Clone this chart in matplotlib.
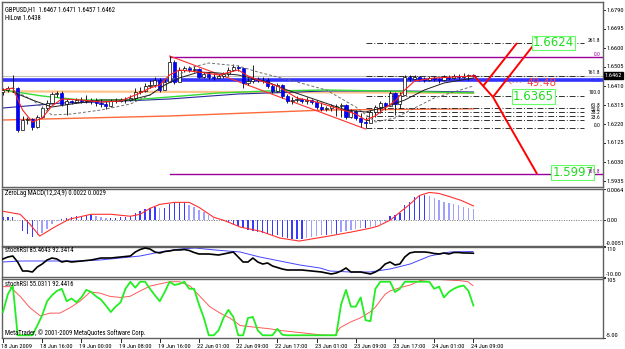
import matplotlib
matplotlib.use("Agg")
import matplotlib.pyplot as plt
import numpy as np

W, H = 625, 349
SMALL = ["Roboto Condensed", "Liberation Sans Narrow", "Liberation Sans", "DejaVu Sans"]
plt.rcParams["font.family"] = SMALL
FS = 4.6
FS_TITLE = 4.8

# ---- price data (GBPUSD H1, 18 Jun 2009 - 24 Jun 2009) ----
first_open = 1.6380
closes = [1.6390, 1.6400, 1.6400, 1.6190, 1.6240, 1.6245, 1.6205, 1.6255, 1.6300, 1.6325,
          1.6370, 1.6375, 1.6320, 1.6335, 1.6330, 1.6340, 1.6335, 1.6340, 1.6335, 1.6325,
          1.6320, 1.6310, 1.6335, 1.6337, 1.6340, 1.6342, 1.6350, 1.6380, 1.6385, 1.6410,
          1.6415, 1.6440, 1.6390, 1.6430, 1.6530, 1.6430, 1.6490, 1.6500, 1.6490, 1.6495,
          1.6455, 1.6470, 1.6455, 1.6450, 1.6460, 1.6470, 1.6490, 1.6505, 1.6500, 1.6425,
          1.6435, 1.6445, 1.6440, 1.6438, 1.6410, 1.6385, 1.6415, 1.6360, 1.6335, 1.6340,
          1.6345, 1.6335, 1.6340, 1.6330, 1.6305, 1.6295, 1.6300, 1.6310, 1.6312, 1.6315,
          1.6255, 1.6285, 1.6250, 1.6230, 1.6225, 1.6280, 1.6305, 1.6325, 1.6310, 1.6375,
          1.6320, 1.6365, 1.6455, 1.6445, 1.6455, 1.6445, 1.6440, 1.6450, 1.6445, 1.6440,
          1.6455, 1.6450, 1.6460, 1.6455, 1.6460, 1.6467, 1.6462]
highs = [1.6400, 1.6410, 1.6465, 1.6405, 1.6260, 1.6255, 1.6250, 1.6265, 1.6310, 1.6340,
         1.6380, 1.6385, 1.6385, 1.6345, 1.6340, 1.6350, 1.6355, 1.6365, 1.6350, 1.6350,
         1.6345, 1.6335, 1.6345, 1.6350, 1.6350, 1.6355, 1.6365, 1.6400, 1.6405, 1.6425,
         1.6440, 1.6455, 1.6450, 1.6450, 1.6560, 1.6540, 1.6505, 1.6510, 1.6510, 1.6510,
         1.6500, 1.6480, 1.6480, 1.6475, 1.6470, 1.6480, 1.6505, 1.6520, 1.6515, 1.6500,
         1.6450, 1.6515, 1.6455, 1.6455, 1.6450, 1.6420, 1.6425, 1.6420, 1.6370, 1.6355,
         1.6360, 1.6350, 1.6355, 1.6345, 1.6340, 1.6330, 1.6310, 1.6320, 1.6320, 1.6325,
         1.6320, 1.6295, 1.6290, 1.6275, 1.6255, 1.6290, 1.6315, 1.6335, 1.6330, 1.6385,
         1.6380, 1.6380, 1.6465, 1.6465, 1.6465, 1.6460, 1.6455, 1.6460, 1.6460, 1.6450,
         1.6465, 1.6465, 1.6470, 1.6470, 1.6475, 1.6470, 1.6471]
lows = [1.6365, 1.6380, 1.6380, 1.6180, 1.6190, 1.6220, 1.6190, 1.6200, 1.6250, 1.6290,
        1.6320, 1.6355, 1.6310, 1.6265, 1.6320, 1.6325, 1.6325, 1.6325, 1.6320, 1.6310,
        1.6305, 1.6295, 1.6305, 1.6325, 1.6330, 1.6325, 1.6335, 1.6340, 1.6370, 1.6380,
        1.6400, 1.6405, 1.6380, 1.6390, 1.6430, 1.6420, 1.6430, 1.6480, 1.6480, 1.6480,
        1.6450, 1.6450, 1.6445, 1.6440, 1.6450, 1.6450, 1.6460, 1.6485, 1.6485, 1.6400,
        1.6415, 1.6425, 1.6430, 1.6425, 1.6400, 1.6375, 1.6380, 1.6350, 1.6325, 1.6320,
        1.6330, 1.6325, 1.6320, 1.6320, 1.6295, 1.6285, 1.6285, 1.6285, 1.6260, 1.6255,
        1.6245, 1.6250, 1.6240, 1.6205, 1.6200, 1.6225, 1.6255, 1.6275, 1.6290, 1.6310,
        1.6265, 1.6300, 1.6365, 1.6435, 1.6440, 1.6435, 1.6430, 1.6435, 1.6435, 1.6425,
        1.6435, 1.6440, 1.6445, 1.6445, 1.6450, 1.6440, 1.6457]

# moving averages on the price chart (bar index, price)
red_ma_idx = [0, 2, 4, 6, 8, 10, 12, 16, 20, 24, 28, 30, 32, 34, 36, 40, 44, 48, 50, 52,
              56, 60, 64, 68, 72, 74, 76, 78, 80, 82, 84, 88, 92, 96]
red_ma = [1.6390, 1.6400, 1.6290, 1.6230, 1.6250, 1.6310, 1.6345, 1.6340, 1.6330, 1.6335,
          1.6375, 1.6400, 1.6415, 1.6465, 1.6490, 1.6480, 1.6465, 1.6490, 1.6460, 1.6440,
          1.6410, 1.6350, 1.6330, 1.6300, 1.6270, 1.6240, 1.6260, 1.6300, 1.6335, 1.6390,
          1.6435, 1.6450, 1.6455, 1.6460]
black_ma_idx = [2, 6, 10, 14, 20, 26, 30, 33, 36, 40, 44, 48, 54, 58, 64, 70, 74, 78, 82, 86, 90, 96]
black_ma = [1.6380, 1.6340, 1.6305, 1.6320, 1.6340, 1.6340, 1.6365, 1.6415, 1.6450, 1.6480,
            1.6475, 1.6465, 1.6430, 1.6390, 1.6340, 1.6290, 1.6280, 1.6305, 1.6340, 1.6390,
            1.6425, 1.6450]
gray_ma_idx = [2, 6, 10, 14, 20, 26, 30, 34, 38, 42, 48, 52, 60, 66, 72, 76, 80, 84, 88, 92, 96]
gray_ma = [1.6390, 1.6340, 1.6265, 1.6270, 1.6290, 1.6320, 1.6365, 1.6430, 1.6500, 1.6525,
           1.6510, 1.6480, 1.6430, 1.6390, 1.6305, 1.6230, 1.6250, 1.6300, 1.6350, 1.6380, 1.6410]
green_ma_idx = [0, 8, 16, 26, 34, 44, 54, 66, 78, 96]
green_ma = [1.6390, 1.6360, 1.6340, 1.6340, 1.6355, 1.6375, 1.6385, 1.6390, 1.6385, 1.6375]
navy_ma_idx = [0, 12, 20, 34, 48, 66, 82, 96]
navy_ma = [1.6300, 1.6325, 1.6330, 1.6345, 1.6370, 1.6385, 1.6385, 1.6380]
peach_ma_idx = [0, 48, 96]
peach_ma = [1.6383, 1.6380, 1.6375]
orange_ma_idx = [0, 34, 66, 96]
orange_ma = [1.6240, 1.6260, 1.6290, 1.6296]

hilow = 1.6438
bid = 1.6462

# fibonacci objects
fib1_start = 34
fib1_levels = [1.6556, 1.5970]
fib1_names = ["0.0", "161.8"]
fib2_start = 74
fib2_levels = [1.6200, 1.6238, 1.6262, 1.6281, 1.6300, 1.6362, 1.6462, 1.6624]
fib2_names = ["0.0", "23.6", "38.2", "50.0", "61.8", "100.0", "161.8", "261.8"]
zigzag_idx = [34, 74]
zigzag = [1.6560, 1.6195]

# projection lines
proj_a_idx = [96, 100, 109]
proj_a = [1.6465, 1.6355, 1.5970]
proj_b_idx = [98, 104.9]
proj_b = [1.6410, 1.6625]
proj_c_idx = [100, 108.6]
proj_c = [1.6355, 1.6625]
targets = ["1.6624", "1.6365", "1.5997"]
target_idx = [112.3, 108.2, 116.3]
target_price = [1.6625, 1.63565, 1.59755]

# ZeroLag MACD
macd_hist = [0.0006, 0.0006, 0.0006, -0.0002, -0.0022, -0.0028, -0.0034, -0.0030, -0.0026, -0.0018,
             -0.0008, -0.0002, 0.0002, 0.0004, 0.0006, 0.0008, 0.0008, 0.0010, 0.0010, 0.0008,
             0.0006, 0.0004, 0.0004, 0.0004, 0.0006, 0.0006, 0.0008, 0.0014, 0.0018, 0.0022,
             0.0024, 0.0026, 0.0024, 0.0024, 0.0032, 0.0036, 0.0036, 0.0036, 0.0030, 0.0026,
             0.0020, 0.0016, 0.0010, 0.0004, 0.0000, -0.0002, -0.0004, -0.0008, -0.0012, -0.0016,
             -0.0020, -0.0022, -0.0024, -0.0026, -0.0028, -0.0030, -0.0030, -0.0034, -0.0036, -0.0038,
             -0.0038, -0.0038, -0.0036, -0.0034, -0.0032, -0.0030, -0.0030, -0.0028, -0.0028, -0.0024,
             -0.0022, -0.0020, -0.0018, -0.0016, -0.0016, -0.0014, -0.0012, -0.0008, -0.0004, 0.0008,
             0.0010, 0.0014, 0.0030, 0.0036, 0.0046, 0.0048, 0.0050, 0.0048, 0.0044, 0.0040,
             0.0036, 0.0034, 0.0032, 0.0030, 0.0027, 0.0024, 0.0022]
macd_sig_idx = [0, 3.5, 5.5, 7.5, 10.5, 13.5, 18, 22, 26, 28, 30, 32, 35, 38, 40, 43, 45, 48.5,
                52.5, 56.5, 60.5, 66.5, 71, 75, 76.5, 79, 81, 83, 85, 87, 89, 91, 93.5, 96]
macd_sig = [0.0018, 0.0012, -0.0008, -0.0032, -0.0014, 0.0002, 0.0012, 0.0012, 0.0008, 0.0012,
            0.0024, 0.0032, 0.0036, 0.0036, 0.0026, 0.0006, 0.0000, -0.0014, -0.0022, -0.0036,
            -0.0042, -0.0032, -0.0024, -0.0016, -0.0012, 0.0000, 0.0016, 0.0032, 0.0050, 0.0056,
            0.0054, 0.0048, 0.0040, 0.0029]

# stochRSI (upper)
st1_main = [62, 70, 74, 50, 14, 14, 10, 30, 42, 58,
            66, 62, 50, 54, 50, 52, 54, 56, 58, 62,
            66, 66, 66, 68, 70, 72, 74, 90, 100, 106,
            102, 90, 86, 92, 94, 98, 98, 100, 96, 88,
            82, 82, 82, 80, 78, 82, 86, 90, 70, 50,
            50, 66, 50, 42, 46, 34, 28, 22, 18, 18,
            18, 18, 16, 14, 12, 10, 6, 2, 6, 14,
            26, 10, 10, 10, 6, 2, 10, 22, 42, 50,
            38, 42, 70, 86, 90, 90, 90, 88, 84, 82,
            86, 82, 88, 88, 86, 86, 85]
st1_sig_idx = [0, 3.5, 9.6, 15.7, 19.8, 23.9, 28, 32, 36.1, 39.2, 43.3, 48.4, 52.4, 56.5,
               60.6, 64.7, 66.7, 70.8, 74.9, 79, 83.1, 87.1, 91.2, 95.9]
st1_sig = [50, 54, 54, 54, 58, 66, 74, 90, 102, 106, 98, 90, 70, 54,
           38, 26, 14, 10, 10, 22, 42, 74, 90, 92]

# stochRSI (lower)
st2_main = [43, 76, 92, 0, 0, 0, 0, 18, 37, 63,
            74, 82, 86, 63, 68, 61, 70, 84, 80, 72,
            66, 55, 43, 53, 61, 86, 99, 88, 99, 99,
            86, 74, 63, 80, 99, 93, 95, 99, 86, 86,
            57, 32, 0, 0, 9, 32, 47, 34, 0, 0,
            32, 34, 9, 0, 0, 0, 12, 1, 0, 0,
            0, 0, 0, 0, 0, 0, 0, 0, 0, 57,
            84, 53, 53, 70, 28, 26, 86, 99, 99, 99,
            80, 86, 99, 99, 99, 99, 99, 99, 86, 90,
            70, 80, 86, 90, 92, 82, 55]
st2_sig_idx = [0, 1.4, 3.5, 5.5, 7.6, 9.6, 11.6, 13.7, 15.7, 17.8,
               19.8, 21.8, 23.9, 25.9, 28, 30, 32, 34.1, 36.1, 38.2,
               40.2, 42.2, 44.3, 46.3, 48.4, 50.4, 52.4, 54.5, 56.5, 58.6,
               60.6, 64.7, 67.8, 68.8, 70.8, 72.9, 74.9, 75.9, 76.9, 78,
               79, 81, 83.1, 85.1, 87.1, 89.2, 91.2, 93.3, 94.9, 95.9]
st2_sig = [90, 90, 72, 51, 36, 41, 41, 51, 63, 80,
           78, 72, 70, 72, 82, 91, 95, 99, 99, 91,
           72, 53, 41, 32, 18, 16, 14, 12, 9, 7,
           5, 1, 0, 14, 24, 32, 43, 51, 63, 76,
           82, 88, 93, 101, 104, 103, 102, 101, 99, 92]

time_labels = ["18 Jun 2009", "18 Jun 16:00", "19 Jun 00:00", "19 Jun 08:00", "19 Jun 16:00",
               "22 Jun 01:00", "22 Jun 09:00", "22 Jun 17:00", "23 Jun 01:00", "23 Jun 09:00",
               "23 Jun 17:00", "24 Jun 01:00", "24 Jun 09:00"]
time_ticks = [0, 8, 16, 24, 32, 40, 48, 56, 64, 72, 80, 88, 96]
price_ticks = [1.6790, 1.6695, 1.6600, 1.6505, 1.6410, 1.6315, 1.6220, 1.6125, 1.6030, 1.5935]


def rect(x0, y0, x1, y1):
    return [x0 / W, 1 - y1 / H, (x1 - x0) / W, (y1 - y0) / H]


def right_label(ax, y, text, va="center"):
    tr = ax.get_yaxis_transform()
    ax.plot([1.0, 1.004], [y, y], transform=tr, color="black", lw=0.6, clip_on=False)
    ax.text(1.0055, y, text, transform=tr, fontsize=FS, va=va, ha="left", clip_on=False)


fig = plt.figure(figsize=(W / 100, H / 100), dpi=100, facecolor="white")
ax_main = fig.add_axes(rect(2, 2, 603, 186.5))
ax_macd = fig.add_axes(rect(2, 188.5, 603, 245.5))
ax_st1 = fig.add_axes(rect(2, 247, 603, 277))
ax_st2 = fig.add_axes(rect(2, 278.5, 603, 338))
axes = [ax_main, ax_macd, ax_st1, ax_st2]
for ax in axes:
    ax.set_xlim(-0.2, 122.45)
    ax.set_xticks([])
    ax.set_yticks([])
    for s in ax.spines.values():
        s.set_color("#606060")
        s.set_linewidth(1.0)

# ---- main chart ----
ax = ax_main
ax.set_ylim(1.59075, 1.6830)
x = np.arange(len(closes))
c = np.array(closes)
o = np.array([first_open] + closes[:-1])
hi = np.array(highs)
lo = np.array(lows)

ax.axhline(bid, color="#c0c0c0", lw=0.8, zorder=1)
ax.axhline(hilow, color="#3333ff", lw=2.6, zorder=1)
ax.plot(orange_ma_idx, orange_ma, color="#ff6a3a", lw=1.0, zorder=2)
ax.plot(peach_ma_idx, peach_ma, color="#ffc48a", lw=1.6, zorder=2)
ax.plot(navy_ma_idx, navy_ma, color="#2a2aa0", lw=0.8, zorder=2)
ax.plot(green_ma_idx, green_ma, color="#33dd33", lw=1.0, zorder=2)

for lvl in fib1_levels:
    ax.plot([fib1_start, 122.45], [lvl, lvl], color="#990099", lw=1.0, zorder=2)
for lvl in fib2_levels:
    ax.plot([fib2_start, 118.5], [lvl, lvl], color="#303030", lw=0.7,
            ls=(0, (6, 2, 1, 2)), zorder=2)
ax.plot(zigzag_idx, zigzag, color="#ff3030", lw=0.8, zorder=2)

bull = c >= o
ax.vlines(x, lo, hi, color="black", lw=0.6, zorder=3)
ax.bar(x[bull], (c - o)[bull], bottom=o[bull], width=0.62, color="white",
       edgecolor="black", lw=0.5, zorder=4)
ax.bar(x[~bull], (c - o)[~bull], bottom=o[~bull], width=0.62, color="#0000ff",
       edgecolor="#0000cc", lw=0.5, zorder=4)

ax.plot(gray_ma_idx, gray_ma, color="#707070", lw=0.7, ls=(0, (3, 2)), zorder=5)
ax.plot(black_ma_idx, black_ma, color="#202020", lw=0.7, zorder=5)
ax.plot(red_ma_idx, red_ma, color="#ff2020", lw=0.8, zorder=5)

for px, py in [(proj_a_idx, proj_a), (proj_b_idx, proj_b), (proj_c_idx, proj_c)]:
    ax.plot(px, py, color="#ff0000", lw=1.4, zorder=6, solid_capstyle="butt")

for t, tx, ty in zip(targets, target_idx, target_price):
    ax.text(tx, ty, t, color="#22dd22", fontsize=8.5, family="DejaVu Sans", ha="center",
            va="center", zorder=8,
            bbox=dict(boxstyle="square,pad=0.08", fc="white", ec="#66ff66", lw=0.8))
ax.text(103.3, 1.6425, "<- - -", color="#ff6060", fontsize=5.5, va="center", zorder=8)
ax.text(106.9, 1.6425, "49:48", color="#ff4040", fontsize=7.5, family="DejaVu Sans",
        va="center", zorder=8)

for lvl, name in zip(fib2_levels, fib2_names):
    ax.text(121.9, lvl + 0.0001, name, fontsize=4.0, ha="right", va="bottom", zorder=7)
ax.text(121.9, fib1_levels[0] + 0.0001, fib1_names[0], fontsize=4.0, ha="right",
        va="bottom", color="#990099", zorder=7)
ax.text(121.9, fib1_levels[1] + 0.0001, fib1_names[1], fontsize=4.0, ha="right",
        va="bottom", color="#990099", zorder=9)
ax.text(121.9, hilow, "61.8", fontsize=4.0, ha="right", va="center", color="#3333ff", zorder=7)

ax.text(0.4, 1.6794, "GBPUSD,H1  1.6467 1.6471 1.6457 1.6462", fontsize=FS_TITLE, va="center")
ax.text(0.4, 1.6750, "HiLow 1.6438", fontsize=FS_TITLE, va="center")

for p in price_ticks:
    right_label(ax, p, f"{p:.4f}")
tr = ax.get_yaxis_transform()
ax.text(1.003, bid, f"{bid:.4f}", transform=tr, fontsize=FS, va="center", ha="left",
        color="white", clip_on=False, zorder=9,
        bbox=dict(boxstyle="square,pad=0.15", fc="black", ec="black"))

# ---- MACD ----
ax = ax_macd
ax.set_ylim(-0.0051, 0.0064)
hist = np.array(macd_hist)
grow = np.abs(hist) >= np.abs(np.concatenate([[0.0], hist[:-1]]))
cols = np.where(grow, "#3a3aff", "#a0a0ff")
ax.bar(x, hist, width=0.28, color=cols, zorder=2)
ax.axhline(0, color="#707070", lw=0.7, ls=(0, (1, 1.5)), zorder=1)
ax.plot(macd_sig_idx, macd_sig, color="#ff3030", lw=0.8, zorder=3)
ax.text(0.4, 0.0054, "ZeroLag MACD(12,24,9) 0.0022 0.0029", fontsize=FS_TITLE, va="center")
right_label(ax, 0.0064, "0.0064", va="top")
right_label(ax, 0.0, "0.00")
right_label(ax, -0.0051, "-0.0051", va="bottom")

# ---- stochRSI 1 ----
ax = ax_st1
ax.set_ylim(-10, 110)
ax.plot(x, st1_main, color="black", lw=1.2, zorder=3)
ax.plot(st1_sig_idx, st1_sig, color="#4444ff", lw=0.7, zorder=2)
ax.text(0.4, 96, "stochRSI 85.4643 92.3414", fontsize=FS_TITLE, va="center")
right_label(ax, 110, "110", va="top")
right_label(ax, -10, "-10.00", va="bottom")

# ---- stochRSI 2 ----
ax = ax_st2
ax.set_ylim(-5, 105)
ax.plot(st2_sig_idx, st2_sig, color="#ff5a5a", lw=0.7, zorder=2)
ax.plot(x, st2_main, color="#22ee22", lw=1.3, zorder=3)
ax.text(0.4, 93, "stochRSI 55.0311 92.4416", fontsize=FS_TITLE, va="center")
ax.text(0.4, 4, "MetaTrader, \u00a9 2001-2009 MetaQuotes Software Corp.", fontsize=FS_TITLE,
        va="center")
right_label(ax, 105, "105", va="top")
right_label(ax, -5, "-5.00", va="bottom")

trx = ax.get_xaxis_transform()
for t, lab in zip(time_ticks, time_labels):
    ax.plot([t, t], [0, -0.06], transform=trx, color="black", lw=0.6, clip_on=False)
    ax.text(t - 0.4, -0.1, lab, transform=trx, fontsize=FS, ha="left", va="top",
            clip_on=False)

fig.savefig("out.png", dpi=100, facecolor="white")
